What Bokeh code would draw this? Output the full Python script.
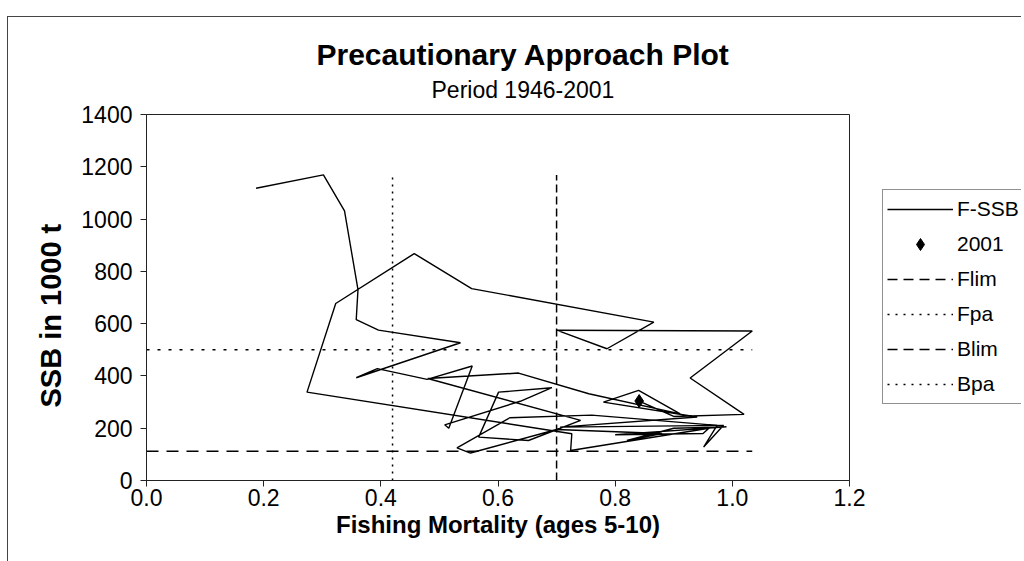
from bokeh.plotting import figure
from bokeh.layouts import row
from bokeh.models import (Range1d, FixedTicker, PrintfTickFormatter, Legend,
                          LegendItem, Title, ColumnDataSource)
from bokeh.embed import file_html
from bokeh.resources import INLINE

# ---- data ----
years = list(range(1946, 2002))
f_values = [0.187, 0.302, 0.338, 0.361, 0.358, 0.396, 0.536, 0.358, 0.394, 0.479,
            0.556, 0.516, 0.509, 0.638, 0.692, 0.601, 0.567, 0.652, 0.741, 0.480,
            0.635, 0.755, 0.911, 0.840, 0.780, 0.940, 0.706, 0.985, 0.951, 0.974,
            0.760, 0.620, 0.530, 0.553, 0.700, 0.880, 0.820, 0.900, 0.990, 0.800,
            0.950, 0.960, 0.724, 0.726, 0.274, 0.323, 0.457, 0.555, 0.866, 0.786,
            0.700, 1.034, 0.928, 1.020, 0.900, 0.841]
ssb_values = [1118, 1169, 1031, 730, 615, 575, 527, 393, 428, 387,
              438, 200, 213, 303, 355, 338, 166, 153, 230, 390,
              411, 332, 255, 345, 300, 243, 204, 211, 128, 211,
              250, 240, 125, 105, 195, 180, 153, 200, 205, 175,
              180, 200, 115, 179, 338, 677, 868, 734, 606, 504,
              575, 572, 392, 253, 245, 304]
last_year = 2001
flim = 0.70
fpa = 0.42
blim = 112
bpa = 500
x_ticks = [0.0, 0.2, 0.4, 0.6, 0.8, 1.0, 1.2]
y_ticks = [0, 200, 400, 600, 800, 1000, 1200, 1400]

FONT = "Liberation Sans"

src = ColumnDataSource(dict(year=years, f=f_values, ssb=ssb_values))
i_last = years.index(last_year)
f_max = max(f_values)
ssb_max = max(ssb_values)

H = 544
p = figure(width=872, height=H, output_backend="svg", toolbar_location=None,
           x_range=Range1d(0, 1.2), y_range=Range1d(0, 1400),
           min_border_left=138, min_border_right=31,
           min_border_top=97, min_border_bottom=81)
p.background_fill_color = "white"
p.border_fill_color = "white"
p.outline_line_color = "#222"
p.xgrid.visible = False
p.ygrid.visible = False

# titles
p.add_layout(Title(text="Period 1946-2001", align="left", text_font=FONT,
                   text_font_size="23px", text_font_style="normal",
                   text_color="black", offset=285, standoff=23), "above")
p.add_layout(Title(text="Precautionary Approach Plot", align="left", text_font=FONT,
                   text_font_size="30px", text_font_style="bold",
                   text_color="black", offset=170, standoff=-15), "above")

# axes
for ax in (p.xaxis[0], p.yaxis[0]):
    ax.major_tick_in = 0
    ax.major_tick_out = 6
    ax.minor_tick_line_color = None
    ax.axis_line_color = "#222"
    ax.major_tick_line_color = "#222"
    ax.major_label_text_font = FONT
    ax.major_label_text_font_size = "23px"
    ax.major_label_text_color = "black"
    ax.axis_label_text_font = FONT
    ax.axis_label_text_font_size = "24px"
    ax.axis_label_text_font_style = "bold"
    ax.axis_label_text_color = "black"

p.xaxis.major_label_standoff = 2
p.yaxis.major_label_standoff = 8
p.xaxis.ticker = FixedTicker(ticks=x_ticks)
p.xaxis.formatter = PrintfTickFormatter(format="%.1f")
p.yaxis.ticker = FixedTicker(ticks=y_ticks)
p.xaxis.axis_label = "Fishing Mortality (ages 5-10)"
p.xaxis.axis_label_standoff = 2

# y-axis title (placed as a side title so it can sit where the reference has it)
p.add_layout(Title(text="SSB in 1000 t", align="left", text_font=FONT,
                   text_font_size="29px", text_font_style="bold",
                   text_color="black", offset=73, standoff=24), "left")

# reference lines
r_flim = p.line([flim, flim], [0, ssb_max], line_color="black", line_width=1.5,
                line_dash="8 4")
r_fpa = p.line([fpa, fpa], [0, ssb_max], line_color="black", line_width=1.5,
               line_dash="2 5")
r_blim = p.line([0, f_max], [blim, blim], line_color="black", line_width=1.5,
                line_dash="12 8")
r_bpa = p.line([0, f_max], [bpa, bpa], line_color="black", line_width=1.5,
               line_dash="3 8")

# F-SSB trajectory
r_fssb = p.line("f", "ssb", source=src, line_color="black", line_width=1.4)
r_last = p.scatter([f_values[i_last]], [ssb_values[i_last]], marker="diamond",
                   size=13, fill_color="black", line_color="black")

# legend panel (separate canvas to the right of the plot area);
# its sample glyphs sit outside the visible range so only the legend shows them
q = figure(width=141, height=H, output_backend="svg", toolbar_location=None,
           x_range=Range1d(0, 1), y_range=Range1d(0, 1), min_border=0)
q.axis.visible = False
q.grid.visible = False
q.outline_line_color = None
q.background_fill_color = "white"
q.border_fill_color = "white"
off = [-5, -4]
l_fssb = q.line(off, off, line_color="black", line_width=1.4)
l_last = q.scatter(off, off, marker="diamond", size=13, fill_color="black",
                   line_color="black")
l_flim = q.line(off, off, line_color="black", line_width=1.5, line_dash="10 6")
l_fpa = q.line(off, off, line_color="black", line_width=1.5, line_dash="2 6")
l_blim = q.line(off, off, line_color="black", line_width=1.5, line_dash="10 6")
l_bpa = q.line(off, off, line_color="black", line_width=1.5, line_dash="2 6")

legend = Legend(items=[LegendItem(label="F-SSB", renderers=[l_fssb]),
                       LegendItem(label=str(last_year), renderers=[l_last]),
                       LegendItem(label="Flim", renderers=[l_flim]),
                       LegendItem(label="Fpa", renderers=[l_fpa]),
                       LegendItem(label="Blim", renderers=[l_blim]),
                       LegendItem(label="Bpa", renderers=[l_bpa])],
                location=(2, 76))
legend.border_line_color = "#222"
legend.border_line_width = 1
legend.padding = 4
legend.spacing = 5
legend.margin = 0
legend.glyph_width = 66
legend.glyph_height = 30
legend.label_standoff = 4
legend.label_text_font = FONT
legend.label_text_font_size = "21px"
legend.label_text_color = "black"
legend.background_fill_color = "white"
legend.background_fill_alpha = 1
q.add_layout(legend)

layout = row(p, q, spacing=0)
layout.styles = {"border-left": "1px solid #444", "border-top": "1px solid #444",
                 "margin-left": "7px", "margin-top": "16px"}

open("out.html", "w").write(file_html(layout, INLINE))
